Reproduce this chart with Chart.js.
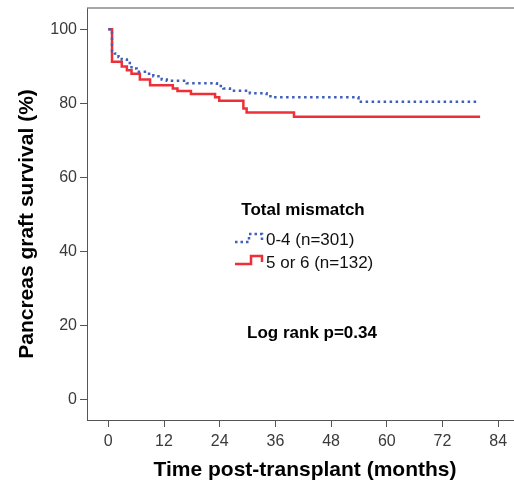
<!DOCTYPE html>
<html><head><meta charset="utf-8">
<script src="https://cdn.jsdelivr.net/npm/chart.js@4.4.1/dist/chart.umd.min.js"></script>
<style>html,body{margin:0;padding:0;background:#fff}#wrap{width:514px;height:488px;position:relative}</style>
</head><body><div id="wrap"><canvas id="c" width="514" height="488"></canvas></div>
<script>
// ---- data (Kaplan-Meier step curves) ----
const groupLabels = ['0-4 (n=301)', '5 or 6 (n=132)'];
const legendTitle = 'Total mismatch';
const noteText = 'Log rank p=0.34';
const xTitle = 'Time post-transplant (months)';
const yTitle = 'Pancreas graft survival (%)';

const timesA = [0, 0.8, 1.4, 2.2, 2.9, 4.0, 5.0, 6.1, 8.3, 9.7, 11.5, 12.6, 16.9, 23.4, 24.8, 26.2, 30.5, 34.1, 35.2, 53.9, 79.9];
const survA  = [100, 94.1, 93.4, 92.5, 91.8, 90.9, 89.4, 88.5, 88.0, 87.3, 86.4, 86.1, 85.4, 84.7, 84.0, 83.4, 82.7, 81.9, 81.6, 80.4, 80.4];

const timesB = [0, 0.8, 2.9, 4.0, 5.0, 6.8, 9.0, 13.9, 14.9, 17.8, 23.0, 23.9, 29.1, 29.8, 40.0, 80.1];
const survB  = [100, 91.2, 89.9, 88.9, 88.0, 86.4, 84.9, 84.0, 83.3, 82.5, 81.6, 80.7, 78.6, 77.5, 76.4, 76.4];

const xTicks = [0, 12, 24, 36, 48, 60, 72, 84];
const yTicks = [0, 20, 40, 60, 80, 100];

const FONT = "'Liberation Sans', Arial, Helvetica, sans-serif";
const BLUE = '#3e5fba';
const RED = '#ee2f37';

const toPts = (t, s) => t.map((v, i) => ({x: v, y: s[i]}));

const overlay = {
  id: 'overlay',
  afterDraw(chart) {
    const ctx = chart.ctx, a = chart.chartArea;
    ctx.save();
    // top frame line
    ctx.strokeStyle = '#8a8a8a'; ctx.lineWidth = 1.5;
    ctx.beginPath(); ctx.moveTo(a.left, a.top); ctx.lineTo(a.right, a.top); ctx.stroke();

    ctx.fillStyle = '#000';
    ctx.textAlign = 'center'; ctx.textBaseline = 'middle';
    // axis titles
    ctx.font = 'bold 21px ' + FONT;
    ctx.fillText(xTitle, 305, 470);
    ctx.save(); ctx.translate(27, 224); ctx.rotate(-Math.PI / 2);
    ctx.fillText(yTitle, 0, 0); ctx.restore();

    // legend
    ctx.font = 'bold 17px ' + FONT;
    ctx.fillText(legendTitle, 303, 210);
    ctx.fillText(noteText, 312, 333);

    ctx.font = '17px ' + FONT; ctx.textAlign = 'left';
    ctx.fillStyle = '#111';
    ctx.fillText(groupLabels[0], 266, 240);
    ctx.fillText(groupLabels[1], 266, 263);

    // legend icons (step shapes)
    ctx.lineWidth = 2.5;
    ctx.strokeStyle = BLUE; ctx.setLineDash([2.5, 3]);
    ctx.beginPath();
    ctx.moveTo(235, 242); ctx.lineTo(249, 242); ctx.lineTo(249, 234); ctx.lineTo(262, 234); ctx.lineTo(262, 241);
    ctx.stroke();
    ctx.strokeStyle = RED; ctx.setLineDash([]);
    ctx.beginPath();
    ctx.moveTo(235, 264); ctx.lineTo(251, 264); ctx.lineTo(251, 256); ctx.lineTo(262, 256); ctx.lineTo(262, 262);
    ctx.stroke();
    ctx.restore();
  }
};

const axisCommon = {
  type: 'linear',
  border: {display: true, color: '#555', width: 1},
  grid: {display: true, drawOnChartArea: false, drawTicks: true, tickLength: 7, color: '#555', tickColor: '#555'},
  ticks: {color: '#3a3a3a', font: {family: FONT, size: 16}}
};

new Chart(document.getElementById('c'), {
  type: 'line',
  data: {
    datasets: [
      {label: groupLabels[0], data: toPts(timesA, survA), stepped: true, borderColor: BLUE,
       borderWidth: 2.5, borderDash: [2.5, 3.5], pointRadius: 0, fill: false},
      {label: groupLabels[1], data: toPts(timesB, survB), stepped: true, borderColor: RED,
       borderWidth: 2.5, pointRadius: 0, fill: false}
    ]
  },
  options: {
    responsive: false, animation: false, devicePixelRatio: 1,
    layout: {padding: {top: 8, right: 0, left: 0, bottom: 0}},
    plugins: {legend: {display: false}, tooltip: {enabled: false}},
    scales: {
      x: Object.assign({}, axisCommon, {
        min: -4.59, max: 87.4,
        ticks: Object.assign({}, axisCommon.ticks, {padding: 5}),
        afterBuildTicks: s => { s.ticks = xTicks.map(v => ({value: v})); },
        afterFit: s => { s.height = 68; s.paddingLeft = 0; s.paddingRight = 0; }
      }),
      y: Object.assign({}, axisCommon, {
        min: -5.4, max: 105.7,
        ticks: Object.assign({}, axisCommon.ticks, {padding: 3}),
        afterBuildTicks: s => { s.ticks = yTicks.map(v => ({value: v})); },
        afterFit: s => { s.width = 87; s.paddingTop = 0; s.paddingBottom = 0; }
      })
    }
  },
  plugins: [overlay]
});
</script>
</body></html>
